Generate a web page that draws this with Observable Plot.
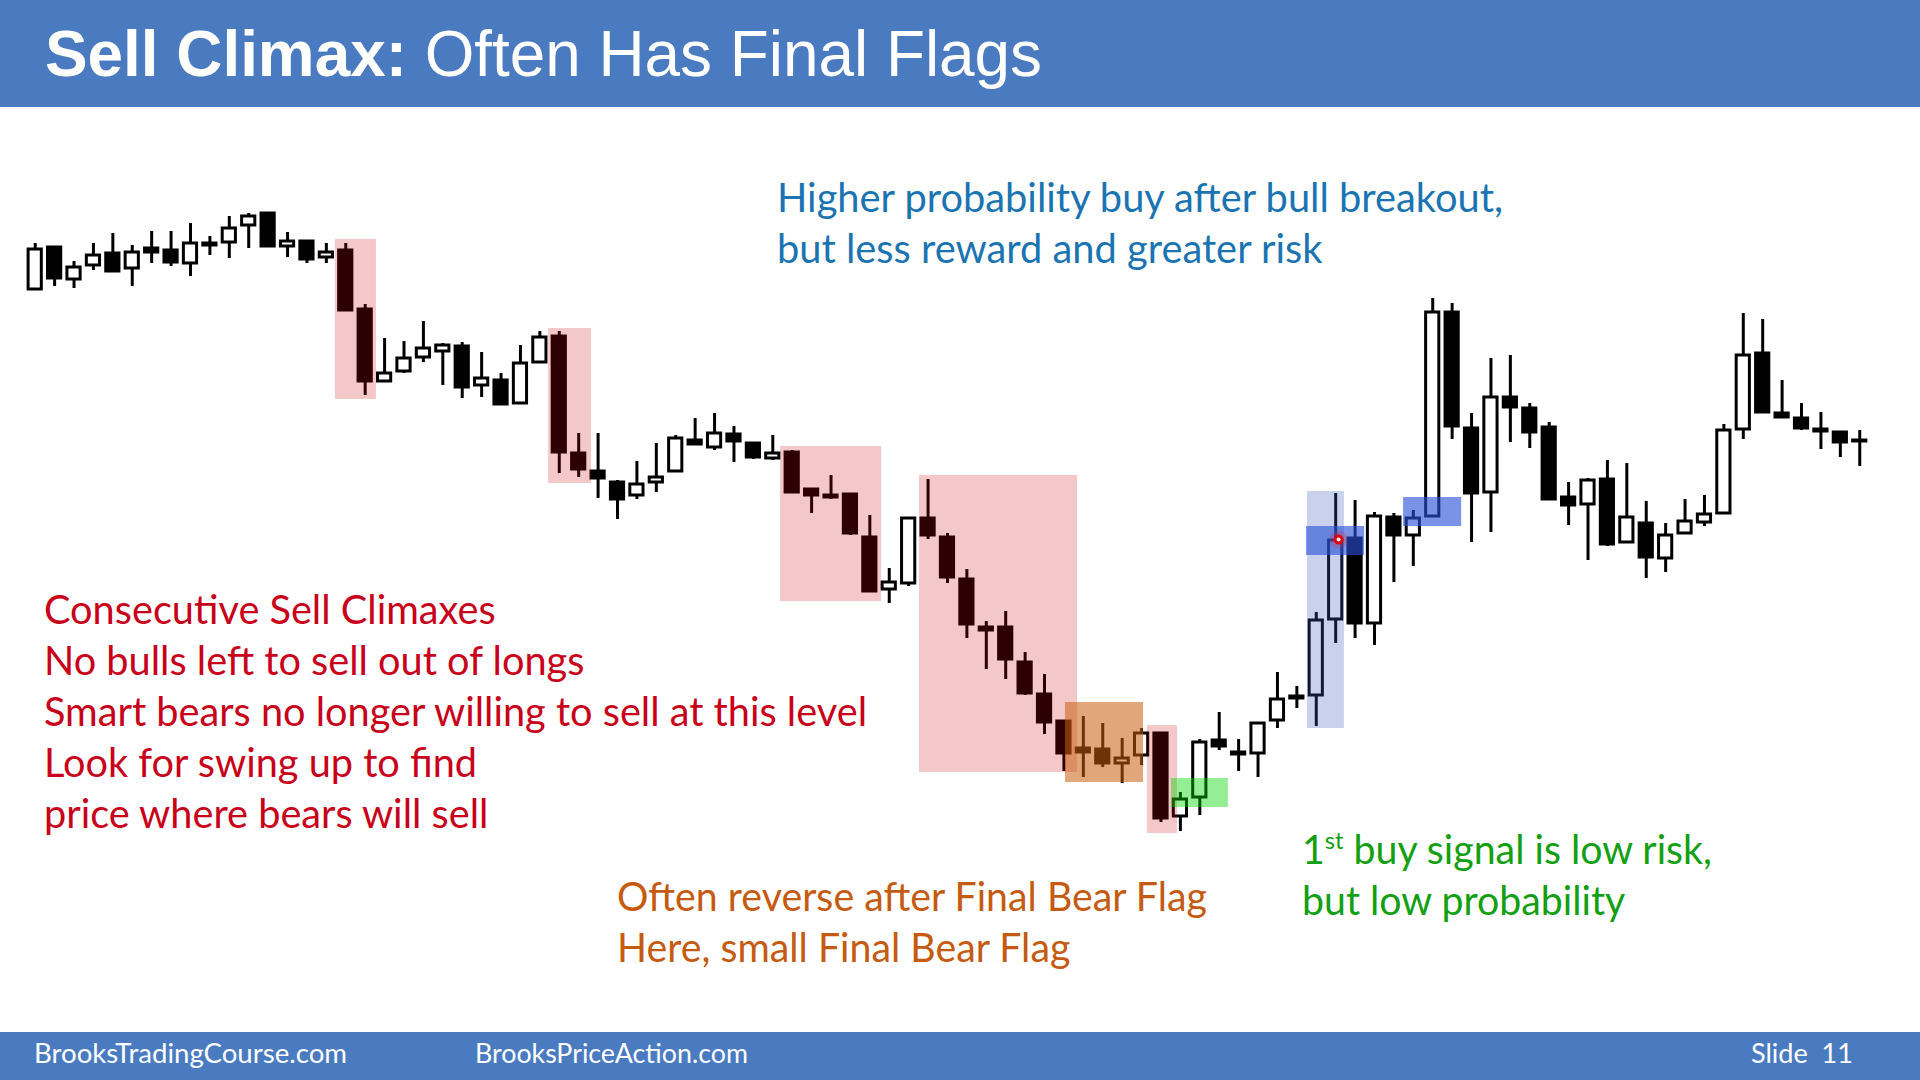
<!DOCTYPE html>
<html>
<head>
<meta charset="utf-8">
<script src="https://cdn.jsdelivr.net/npm/d3@7"></script>
<script src="https://cdn.jsdelivr.net/npm/@observablehq/plot@0.6"></script>
<style>
  html, body { margin: 0; padding: 0; background: #fff; width: 1920px; height: 1080px; overflow: hidden; }
  #page { position: relative; width: 1920px; height: 1080px; background: #fff; }
  #titlebar { position: absolute; left: 0; top: 0; width: 1920px; height: 107px; background: #4A7BC1; }
  #chart { position: absolute; left: 0; top: 107px; width: 1920px; height: 925px; }
  #footer { position: absolute; left: 0; top: 1032px; width: 1920px; height: 48px; background: #4A7BC1; }
  .lbl { position: absolute; white-space: pre; transform-origin: 0 0; line-height: 1.2; z-index: 5; }
  .lbl sup { font-size: 0.6em; vertical-align: 0.62em; line-height: 0; }
</style>
</head>
<body>
<div id="page">
  <div id="titlebar"></div>
  <div id="chart"></div>
  <div id="footer"></div>
</div>
<script>
// ---------------- DATA ----------------
// Bar number (1..95) and OHLC prices in chart units
const bars  = d3.range(1, 96);
const open  = [711,753,721,735,747,732,752,750,737,757,758,775,787,754,759,743,750,691,619,629,
               643,649,654,615,620,597,638,664,547,529,518,505,518,529,560,553,566,557,542,548,
               511,505,506,463,411,417,482,463,421,373,373,338,306,279,252,251,237,245,267,184,
               203,260,248,247,280,304,305,381,462,377,483,465,484,688,572,508,603,592,573,503,
               496,521,458,477,442,467,478,487,571,647,587,582,571,568,560];
const high  = [757,754,739,757,767,755,769,769,777,764,784,787,787,768,759,757,757,696,662,659,
               679,657,658,648,627,655,669,669,567,567,520,539,557,565,582,587,574,557,565,550,
               512,525,507,485,432,483,521,467,431,379,389,348,326,279,284,277,262,272,267,208,
               261,288,261,277,328,314,388,507,500,488,487,490,702,697,587,642,645,597,578,518,
               522,540,537,499,477,501,505,576,687,681,620,597,588,568,570];
const low   = [711,714,712,730,728,714,737,734,724,745,742,752,754,743,737,737,690,605,618,627,
               638,615,602,603,595,597,637,527,523,502,481,501,508,529,555,550,538,541,540,507,
               487,501,465,408,397,414,461,417,362,331,321,305,266,229,223,233,217,235,178,169,
               185,250,229,223,272,292,274,357,362,355,418,434,484,561,458,468,558,552,501,475,
               440,454,458,422,428,467,474,487,561,588,582,570,551,543,534];
const close = [751,722,733,745,729,748,748,738,757,755,772,784,754,759,741,748,690,619,627,642,
               652,655,613,622,596,637,663,548,531,522,501,516,523,562,556,567,559,543,547,508,
               505,503,467,409,418,482,465,423,376,370,341,307,278,247,248,237,242,267,182,201,
               258,254,246,277,301,302,380,460,377,484,465,482,688,574,507,603,593,568,501,495,
               520,456,483,443,465,479,486,570,645,588,583,572,569,558,559];

// Highlight boxes: bar-number span and price span
const boxKind = ["climax","climax","climax","climax","finalFlag","climax","entry","breakout","signal","signal"];
const boxX1   = [16.47, 27.45, 39.40, 46.56, 54.08, 58.30, 59.54, 66.55, 66.50, 71.50];
const boxX2   = [18.58, 29.66, 44.60, 54.70, 58.10, 59.85, 62.47, 68.45, 69.49, 74.49];
const boxY1   = [601, 517, 399, 228, 218, 167, 193, 272, 445, 474];
const boxY2   = [761, 672, 554, 525, 298, 275, 222, 509, 474, 503];

// Entry marker (red dot)
const entryBar = [68.15];
const entryPrice = [461];

// Texts
const titleBold = "Sell Climax:";
const titleRegular = " Often Has Final Flags";
const notesRed = ["Consecutive Sell Climaxes", "No bulls left to sell out of longs",
                  "Smart bears no longer willing to sell at this level",
                  "Look for swing up to find", "price where bears will sell"];
const notesBlue = ["Higher probability buy after bull breakout,", "but less reward and greater risk"];
const notesOrange = ["Often reverse after Final Bear Flag", "Here, small Final Bear Flag"];
const notesGreen = ["1|st| buy signal is low risk,", "but low probability"];
const footerTexts = ["BrooksTradingCourse.com", "BrooksPriceAction.com", "Slide  11"];

// ---------------- BUILD ----------------
const candles = bars.map((b, k) => ({i: b, o: open[k], h: high[k], l: low[k], c: close[k]}));
const boxes = boxKind.map((k, j) => ({kind: k, x1: boxX1[j], x2: boxX2[j], y1: boxY1[j], y2: boxY2[j]}));
const entry = entryBar.map((b, j) => ({i: b, p: entryPrice[j]}));
const HW = 0.34;

const boxStyle = {
  climax:    {fill: "rgb(205,0,10)",  fillOpacity: 0.22},
  finalFlag: {fill: "rgb(200,95,15)", fillOpacity: 0.55},
  entry:     {fill: "rgb(0,215,0)",   fillOpacity: 0.42},
  breakout:  {fill: "rgb(60,90,190)", fillOpacity: 0.28},
  signal:    {fill: "rgb(40,80,215)", fillOpacity: 0.62}
};
const boxMark = kind => Plot.rect(boxes.filter(d => d.kind === kind),
  {x1: "x1", x2: "x2", y1: "y1", y2: "y2", ...boxStyle[kind]});

const chart = Plot.plot({
  width: 1920,
  height: 925,
  margin: 0,
  x: {type: "linear", domain: [-0.788, 98.13], axis: null},
  y: {type: "linear", domain: [-32, 893], axis: null},
  marks: [
    Plot.ruleX(candles, {x: "i", y1: "l", y2: "h", stroke: "#000", strokeWidth: 3}),
    Plot.rect(candles.filter(d => d.c > d.o), {x1: d => d.i - HW, x2: d => d.i + HW, y1: "o", y2: "c",
      fill: "#fff", stroke: "#000", strokeWidth: 3}),
    Plot.rect(candles.filter(d => d.c <= d.o), {x1: d => d.i - HW, x2: d => d.i + HW, y1: "o", y2: "c",
      fill: "#000", stroke: "#000", strokeWidth: 3}),
    boxMark("climax"),
    boxMark("finalFlag"),
    boxMark("entry"),
    boxMark("breakout"),
    boxMark("signal"),
    Plot.dot(entry, {x: "i", y: "p", r: 9, fill: "#ff2020", fillOpacity: 0.22}),
    Plot.dot(entry, {x: "i", y: "p", r: 5, fill: "#e00010"}),
    Plot.dot(entry, {x: "i", y: "p", r: 2, fill: "#ffffff"})
  ]
});
document.getElementById("chart").appendChild(chart);

// ---------------- TEXT OVERLAYS ----------------
const page = document.getElementById("page");
const labels = [];
function addLabel(html, opts) {
  const div = document.createElement("div");
  div.className = "lbl";
  div.style.left = opts.x + "px";
  div.style.top = "0px";
  div.style.color = opts.color;
  div.style.fontFamily = opts.font;
  div.style.fontSize = opts.size + "px";
  const span = document.createElement("span");
  span.innerHTML = html;
  const marker = document.createElement("span");
  marker.style.display = "inline-block";
  marker.style.width = "0px";
  marker.style.height = "0px";
  div.appendChild(span);
  div.appendChild(marker);
  page.appendChild(div);
  labels.push({div, span, marker, opts});
}
function layout() {
  const groups = {};
  for (const L of labels) {
    L.div.style.transform = "none";
    L.div.style.top = "0px";
  }
  for (const L of labels) {
    const r0 = L.div.getBoundingClientRect();
    const mb = L.marker.getBoundingClientRect();
    L.div.style.top = (L.opts.baseline - (mb.bottom - r0.top)) + "px";
    L.w = L.span.getBoundingClientRect().width;
    if (L.opts.group) {
      const g = groups[L.opts.group] || (groups[L.opts.group] = {scale: null});
      if (L.opts.width) g.scale = L.opts.width / L.w;
    }
  }
  for (const L of labels) {
    let s = 1;
    if (L.opts.group) s = groups[L.opts.group].scale;
    else if (L.opts.width) s = L.opts.width / L.w;
    L.div.style.transform = `scaleX(${s})`;
  }
}
const esc = t => t.replace(/&/g, "&amp;").replace(/</g, "&lt;");
const noteFont = "Lato, 'Open Sans', sans-serif";

// title
addLabel(`<b>${esc(titleBold)}</b>${esc(titleRegular)}`,
  {x: 45, baseline: 76, color: "#fff", font: "'Liberation Sans', Arial, sans-serif", size: 65, width: 997});

// red block
const redEnds = [null, null, 823, null, null];
notesRed.forEach((t, k) => addLabel(esc(t), {x: 44, baseline: 624 + k * 51, color: "#C8001A",
  font: noteFont, size: 40, group: "red", width: redEnds[k]}));
// blue block
notesBlue.forEach((t, k) => addLabel(esc(t), {x: 777, baseline: 212 + k * 51, color: "#1B74B2",
  font: noteFont, size: 40, group: "blue", width: k === 0 ? 726 : null}));
// orange block
notesOrange.forEach((t, k) => addLabel(esc(t), {x: 617, baseline: 911 + k * 51, color: "#C55A11",
  font: noteFont, size: 40, group: "orange", width: k === 0 ? 590 : null}));
// green block
notesGreen.forEach((t, k) => {
  const parts = t.split("|");
  const html = parts.length === 3 ? `${esc(parts[0])}<sup>${esc(parts[1])}</sup>${esc(parts[2])}` : esc(t);
  addLabel(html, {x: 1302, baseline: 864 + k * 51, color: "#12A012",
    font: noteFont, size: 40, group: "green", width: k === 0 ? 410 : null});
});
// footer
const footX = [34, 475, 1751];
const footW = [313, 273, 102];
footerTexts.forEach((t, k) => addLabel(esc(t), {x: footX[k], baseline: 1063, color: "#fff",
  font: noteFont, size: 26, width: footW[k]}));

layout();
if (document.fonts && document.fonts.ready) document.fonts.ready.then(layout);
</script>
</body>
</html>
